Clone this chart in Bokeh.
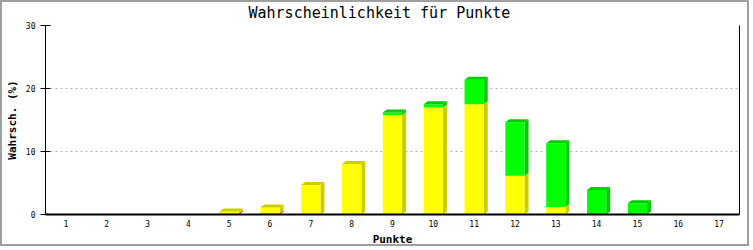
from bokeh.plotting import figure
from bokeh.models import FixedTicker, LinearAxis, Range1d
from bokeh.embed import file_html
from bokeh.resources import INLINE

# ---- data ----
categories = list(range(1, 18))
red = [0, 0, 0, 0, 0.15, 0.15, 0, 0, 0, 0, 0, 0, 0, 0, 0, 0, 0]
yellow = [0, 0, 0, 0, 0.33, 0.95, 4.67, 8.02, 15.8, 17.0, 17.5, 6.15, 1.2, 0, 0, 0, 0]
green = [0, 0, 0, 0, 0, 0, 0, 0, 0.4, 0.5, 3.9, 8.5, 10.1, 3.9, 1.8, 0, 0]
y_ticks = [0, 10, 20, 30]

series = [(red, "#ff0000", "#cc0000"),
          (yellow, "#ffff00", "#cccc00"),
          (green, "#00ff00", "#00cc00")]

W, H = 749, 246
ML, MR, MT, MB = 41, 12, 23, 34
frame_w = W - ML - MR
frame_h = H - MT - MB

p = figure(width=W, height=H, output_backend="svg", toolbar_location=None,
           x_range=Range1d(0.5, 17.5), y_range=Range1d(0, 30),
           min_border_left=ML, min_border_right=MR, min_border_top=MT,
           min_border_bottom=MB, title="Wahrscheinlichkeit für Punkte")
p.styles = {"border": "2px solid #a0a0a0"}
p.outline_line_color = None
p.background_fill_color = "white"
p.border_fill_color = "white"

p.title.align = "left"
p.title.vertical_align = "top"
p.title.text_font = "DejaVu Sans Mono"
p.title.text_font_size = "15px"
p.title.text_font_style = "normal"
p.title.text_color = "black"
p.title.offset = 203
p.title.standoff = 3

# depth in data units (4px right, 3px up)
dx = 4 * (17.0 / frame_w)
dy = 3 * (30.0 / frame_h)
bw = 0.47

for i, c in enumerate(categories):
    base = 0.0
    total = red[i] + yellow[i] + green[i]
    for vals, front, dark in series:
        v = vals[i]
        if v <= 0:
            continue
        b, t = base, base + v
        l, r = c - bw / 2, c + bw / 2
        # side face
        p.patch([r, r + dx, r + dx, r], [b, b + dy, t + dy, t],
                fill_color=dark, line_color=None)
        p.quad(left=[l], right=[r], bottom=[b], top=[t],
               fill_color=front, line_color=None)
        if abs(t - total) < 1e-9:
            p.patch([l, l + dx, r + dx, r], [t, t + dy, t + dy, t],
                    fill_color=dark, line_color=None)
        base = t

# axes
p.xgrid.visible = False
p.ygrid.ticker = FixedTicker(ticks=y_ticks)
p.ygrid.grid_line_color = "#b4b4b4"
p.ygrid.grid_line_dash = "2 3"

xa = p.xaxis[0]
xa.ticker = FixedTicker(ticks=categories)
xa.major_tick_in = 0
xa.major_tick_out = 0
xa.minor_tick_line_color = None
xa.axis_line_color = "black"
xa.axis_line_width = 2
xa.major_label_text_font = "DejaVu Sans Mono"
xa.major_label_text_font_size = "8px"
xa.major_label_text_color = "black"
xa.major_label_standoff = 5
xa.axis_label = "Punkte"
xa.axis_label_text_font = "DejaVu Sans Mono"
xa.axis_label_text_font_size = "11px"
xa.axis_label_text_font_style = "bold"
xa.axis_label_text_color = "black"
xa.axis_label_standoff = 3

ya = p.yaxis[0]
ya.ticker = FixedTicker(ticks=y_ticks)
ya.major_tick_in = 5
ya.major_tick_out = 5
ya.minor_tick_line_color = None
ya.axis_line_color = "black"
ya.major_label_text_font = "DejaVu Sans Mono"
ya.major_label_text_font_size = "8px"
ya.major_label_text_color = "black"
ya.major_label_standoff = 5
ya.axis_label = "Wahrsch. (%)"
ya.axis_label_text_font = "DejaVu Sans Mono"
ya.axis_label_text_font_size = "11px"
ya.axis_label_text_font_style = "bold"
ya.axis_label_text_color = "black"
ya.axis_label_standoff = 4

ra = LinearAxis(ticker=FixedTicker(ticks=[]), major_label_text_font_size="0px",
                major_tick_line_color=None, minor_tick_line_color=None,
                axis_line_color="black")
p.add_layout(ra, "right")

open("out.html", "w").write(file_html(p, INLINE))
